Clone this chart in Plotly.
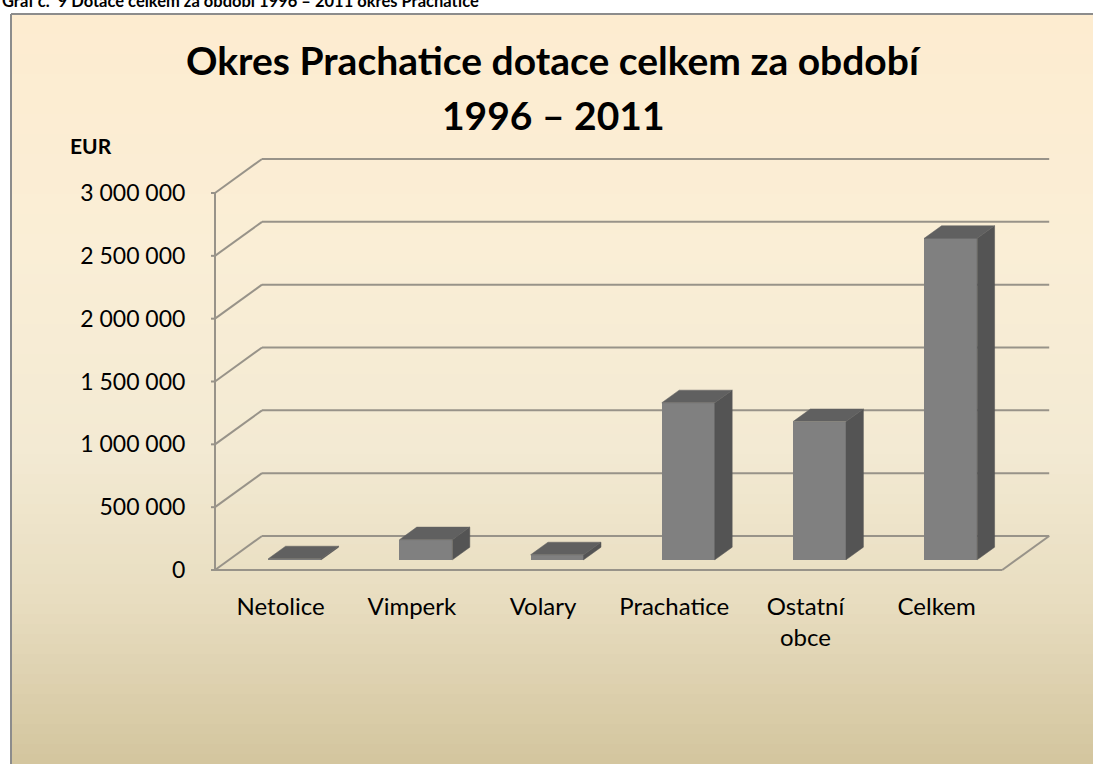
import plotly.graph_objects as go

# ---------------- data ----------------
categories = ["Netolice", "Vimperk", "Volary", "Prachatice", "Ostatní<br>obce", "Celkem"]
values = [8000, 160000, 40000, 1250000, 1100000, 2558000]
y_ticks = [0, 500000, 1000000, 1500000, 2000000, 2500000, 3000000]
y_tick_labels = ["0", "500 000", "1 000 000", "1 500 000", "2 000 000", "2 500 000", "3 000 000"]
title_line1 = "Okres Prachatice dotace celkem za období"
title_line2 = "1996 – 2011"
caption = "Graf č.  9 Dotace celkem za období 1996 – 2011 okres Prachatice"
unit_label = "EUR"

# ---------------- layout geometry ----------------
W, H = 1093, 764
X0_PX, UX = 215, 131.2          # px of category 0 edge, px per category
Y0_PX, UY = 570, 377 / 3e6      # px of value 0 (front), px per EUR
DX = 47 / UX                    # oblique depth offset in x units
DY = 34 / UY                    # oblique depth offset in y units
L, R, T, B = 202, 25, 149, 181
plot_w, plot_h = W - L - R, H - T - B
x_range = [(L - X0_PX) / UX, (W - R - X0_PX) / UX]
y_range = [(Y0_PX - (H - B)) / UY, (Y0_PX - T) / UY]

BAR_FRONT = 0.30   # depth fraction of bar front face
BAR_DEPTH = 0.37   # depth fraction of bar thickness
BAR_W = 0.404

def pp(px, py):
    return (px - L) / plot_w, ((H - B) - py) / plot_h

FONT = "Lato"
GRID = "rgb(152,147,137)"

shapes = []
# background gradient inside frame
stops = [(14, (253, 236, 208)), (250, (250, 238, 214)), (450, (243, 234, 211)),
         (600, (232, 221, 192)), (764, (211, 197, 158))]
def grad(py):
    for (a, ca), (b, cb) in zip(stops[:-1], stops[1:]):
        if a <= py <= b:
            t = (py - a) / (b - a)
            return tuple(round(ca[k] + t * (cb[k] - ca[k])) for k in range(3))
    return stops[-1][1]
n = 75
for k in range(n):
    ya = 14 + k * (H - 14) / n
    yb = 14 + (k + 1) * (H - 14) / n + 0.6
    c = grad((ya + yb) / 2)
    x0p, y0p = pp(11, yb)
    x1p, y1p = pp(W + 5, ya)
    shapes.append(dict(type="rect", xref="paper", yref="paper", x0=x0p, x1=x1p, y0=y0p, y1=y1p,
                       fillcolor=f"rgb{c}", line=dict(width=0), layer="below"))
# frame borders
fx, fy0 = pp(11, 14)
_, fy1 = pp(11, H + 5)
fx1, _ = pp(W + 5, 14)
shapes.append(dict(type="line", xref="paper", yref="paper", x0=fx, x1=fx, y0=fy0, y1=fy1,
                   line=dict(color="rgb(140,140,140)", width=2), layer="below"))
shapes.append(dict(type="line", xref="paper", yref="paper", x0=fx, x1=fx1, y0=fy0, y1=fy0,
                   line=dict(color="rgb(140,140,140)", width=2), layer="below"))

def dline(x0, y0, x1, y1, color=GRID, width=2):
    shapes.append(dict(type="line", xref="x", yref="y", x0=x0, y0=y0, x1=x1, y1=y1,
                       line=dict(color=color, width=width), layer="below"))

ncat = len(categories)
for v in y_ticks:
    dline(DX, v + DY, ncat + DX, v + DY)          # back wall gridline
    dline(0, v, DX, v + DY)                       # side wall diagonal
    dline(0, v, -4 / UX, v)                       # small front tick
# front axis and floor
dline(0, 0, 0, y_ticks[-1])
dline(0, 0, ncat, 0)
dline(ncat, 0, ncat + DX, DY)

# ---------------- bars ----------------
base = BAR_FRONT * DY
xc = [i + 0.5 + BAR_FRONT * DX for i in range(ncat)]
fig = go.Figure()
fig.add_trace(go.Bar(x=xc, y=values, base=[base] * ncat, width=BAR_W,
                     marker=dict(color="rgb(128,128,128)", line=dict(width=0)),
                     hoverinfo="skip", showlegend=False))

top_x, top_y, side_x, side_y = [], [], [], []
ddx, ddy = BAR_DEPTH * DX, BAR_DEPTH * DY
for x, v in zip(xc, values):
    xl, xr = x - BAR_W / 2, x + BAR_W / 2
    top = base + v
    top_x += [xl, xr, xr + ddx, xl + ddx, xl, None]
    top_y += [top, top, top + ddy, top + ddy, top, None]
    side_x += [xr, xr + ddx, xr + ddx, xr, xr, None]
    side_y += [base, base + ddy, top + ddy, top, base, None]
fig.add_trace(go.Scatter(x=side_x, y=side_y, mode="lines", fill="toself",
                         fillcolor="rgb(84,84,84)", line=dict(width=0.5, color="rgb(84,84,84)"),
                         hoverinfo="skip", showlegend=False))
fig.add_trace(go.Scatter(x=top_x, y=top_y, mode="lines", fill="toself",
                         fillcolor="rgb(96,96,96)", line=dict(width=0.5, color="rgb(96,96,96)"),
                         hoverinfo="skip", showlegend=False))

# ---------------- annotations ----------------
ann = []
ax, ay = pp(553, 60)
ann.append(dict(text=title_line1, x=ax, y=ay, xref="paper", yref="paper", showarrow=False,
                xanchor="center", yanchor="middle", font=dict(family=FONT, size=39, color="black", weight="bold")))
ax, ay = pp(553, 115)
ann.append(dict(text=title_line2, x=ax, y=ay, xref="paper", yref="paper", showarrow=False,
                xanchor="center", yanchor="middle", font=dict(family=FONT, size=39, color="black", weight="bold")))
ax, ay = pp(91, 145)
ann.append(dict(text=unit_label, x=ax, y=ay, xref="paper", yref="paper", showarrow=False,
                xanchor="center", yanchor="middle", font=dict(family=FONT, size=21, color="black", weight="bold")))
ax, ay = pp(0, 1)
ann.append(dict(text=caption, x=ax, y=ay, xref="paper", yref="paper", showarrow=False,
                xanchor="left", yanchor="middle", font=dict(family=FONT, size=16.5, color="black", weight="bold")))

fig.update_layout(
    width=W, height=H,
    margin=dict(l=L, r=R, t=T, b=B, autoexpand=False),
    paper_bgcolor="white", plot_bgcolor="rgba(0,0,0,0)",
    shapes=shapes, annotations=ann, hovermode=False, showlegend=False,
    bargap=0,
    xaxis=dict(range=x_range, tickmode="array", tickvals=[i + 0.5 for i in range(ncat)],
               ticktext=categories, showgrid=False, zeroline=False, showline=False,
               ticks="outside", ticklen=2, tickcolor="rgba(0,0,0,0)",
               tickfont=dict(family=FONT, size=24, color="black"), automargin=False, fixedrange=True),
    yaxis=dict(range=y_range, tickmode="array", tickvals=y_ticks, ticktext=y_tick_labels,
               showgrid=False, zeroline=False, showline=False,
               ticks="outside", ticklen=11, tickcolor="rgba(0,0,0,0)",
               tickfont=dict(family=FONT, size=23, color="black"), automargin=False, fixedrange=True),
)

fig.write_html("out.html", config={"displayModeBar": False, "staticPlot": True},
               post_script="document.body.style.margin='0';document.body.style.overflow='hidden';")
